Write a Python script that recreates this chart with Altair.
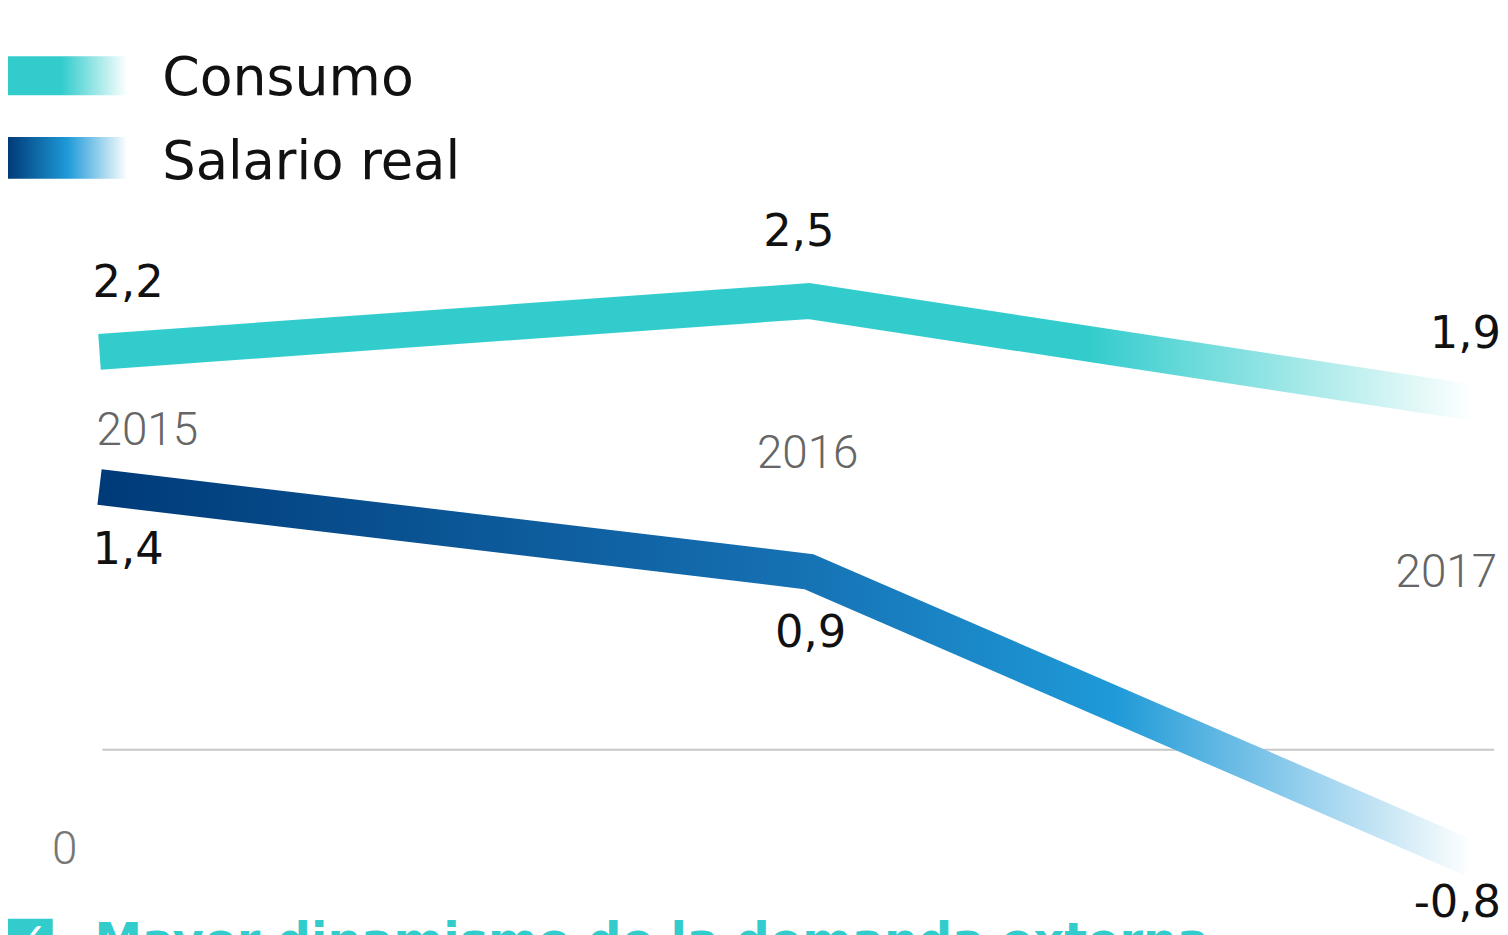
import altair as alt
import pandas as pd

# ---- data ----
years = [2015, 2016, 2017]
consumo = [2.2, 2.5, 1.9]
salario = [1.4, 0.9, -0.8]
consumo_labels = ["2,2", "2,5", "1,9"]
salario_labels = ["1,4", "0,9", "-0,8"]
year_labels = ["2015", "2016", "2017"]
year_label_level = [1.65, 1.51, 0.81]   # vertical anchor (data units) of the floating year labels
series_names = ["Consumo", "Salario real"]
footer_text = "Mayor dinamismo de la demanda externa"

TEAL = "#33cccc"
FONT = "DejaVu Sans"
LIGHT = "Roboto"

df_c = pd.DataFrame({"year": years, "value": consumo, "label": consumo_labels})
df_s = pd.DataFrame({"year": years, "value": salario, "label": salario_labels})
df_y = pd.DataFrame({"year": years, "value": year_label_level, "label": year_labels})

X = alt.X("year:Q", scale=alt.Scale(domain=[2015, 2016, 2017], range=[0, 713, 1380], nice=False, zero=False), axis=None)
Y = alt.Y("value:Q", scale=alt.Scale(domain=[-1.2, 4.0], nice=False, zero=False), axis=None)

grad_c = alt.Gradient(
    gradient="linear",
    stops=[alt.GradientStop(color=TEAL, offset=0),
           alt.GradientStop(color=TEAL, offset=0.72),
           alt.GradientStop(color="#ffffff", offset=1)],
    x1=0, x2=1, y1=0, y2=0)
grad_s = alt.Gradient(
    gradient="linear",
    stops=[alt.GradientStop(color="#003a78", offset=0),
           alt.GradientStop(color="#1570b2", offset=0.5),
           alt.GradientStop(color="#1f9ad8", offset=0.74),
           alt.GradientStop(color="#ffffff", offset=1)],
    x1=0, x2=1, y1=0, y2=0)

# zero rule
rule = alt.Chart(pd.DataFrame({"v": [0]})).mark_rule(color="#c8c8c8", strokeWidth=2).encode(
    x=alt.value(3), x2=alt.value(1402), y=alt.value(706))
zero_lbl = alt.Chart(pd.DataFrame({"t": ["0"]})).mark_text(
    font=LIGHT, fontSize=46, fontWeight=300, color="#777", align="center", baseline="alphabetic").encode(
    x=alt.value(-35), y=alt.value(821), text="t:N")

line_c = alt.Chart(df_c).mark_line(strokeWidth=36, strokeCap="butt", strokeJoin="miter",
                                   stroke=grad_c).encode(x=X, y=Y)
line_s = alt.Chart(df_s).mark_line(strokeWidth=36, strokeCap="butt", strokeJoin="miter",
                                   stroke=grad_s).encode(x=X, y=Y)


def value_labels(df, dy_list, align_list, dx_list):
    layers = []
    for yr, dy, al, dx in zip(years, dy_list, align_list, dx_list):
        layers.append(
            alt.Chart(df).transform_filter(alt.datum.year == yr).mark_text(
                font=FONT, fontSize=45, fontWeight="normal", color="#111",
                align=al, dx=dx, dy=dy, baseline="alphabetic").encode(x=X, y=Y, text="label:N"))
    return layers


lab_c = value_labels(df_c, [-55, -55, -55], ["left", "center", "right"], [-7, -10, 29])
lab_s = value_labels(df_s, [77, 76, 58], ["left", "center", "right"], [-7, 2, 29])

yr_layers = []
for yr, al, dx in zip(years, ["left", "center", "right"], [-3, -1, 25]):
    yr_layers.append(
        alt.Chart(df_y).transform_filter(alt.datum.year == yr).mark_text(
            font=LIGHT, fontSize=46, fontWeight=300, color="#666", align=al, dx=dx,
            baseline="alphabetic").encode(x=X, y=Y, text="label:N"))

# legend
leg_df = pd.DataFrame({"name": series_names})
leg_rect_c = alt.Chart(leg_df).transform_filter(alt.datum.name == series_names[0]).mark_rect(
    fill=alt.Gradient(gradient="linear",
                      stops=[alt.GradientStop(color=TEAL, offset=0),
                             alt.GradientStop(color=TEAL, offset=0.45),
                             alt.GradientStop(color="#ffffff", offset=1)],
                      x1=0, x2=1, y1=0, y2=0)).encode(
    x=alt.value(-92), x2=alt.value(28), y=alt.value(9), y2=alt.value(48))
leg_rect_s = alt.Chart(leg_df).transform_filter(alt.datum.name == series_names[1]).mark_rect(
    fill=alt.Gradient(gradient="linear",
                      stops=[alt.GradientStop(color="#003a78", offset=0),
                             alt.GradientStop(color="#1f9ad8", offset=0.5),
                             alt.GradientStop(color="#ffffff", offset=1)],
                      x1=0, x2=1, y1=0, y2=0)).encode(
    x=alt.value(-92), x2=alt.value(28), y=alt.value(90), y2=alt.value(132))
leg_txt_c = alt.Chart(leg_df).transform_filter(alt.datum.name == series_names[0]).mark_text(
    font=FONT, fontSize=54, fontWeight="normal", color="#111", align="left", baseline="alphabetic").encode(
    x=alt.value(63), y=alt.value(48), text="name:N")
leg_txt_s = alt.Chart(leg_df).transform_filter(alt.datum.name == series_names[1]).mark_text(
    font=FONT, fontSize=53, fontWeight="normal", color="#111", align="left", baseline="alphabetic").encode(
    x=alt.value(63), y=alt.value(132), text="name:N")

# footer (cut off at the bottom of the picture, as in the source)
foot_df = pd.DataFrame({"t": [footer_text]})
foot_icon = alt.Chart(foot_df).mark_rect(fill=TEAL).encode(
    x=alt.value(-92), x2=alt.value(-47), y=alt.value(876), y2=alt.value(924))
foot_check = alt.Chart(foot_df).mark_text(
    font=FONT, fontSize=40, fontWeight="bold", color="white", align="center", baseline="top").encode(
    x=alt.value(-69), y=alt.value(876), text=alt.value("✓"))
foot_txt = alt.Chart(foot_df).mark_text(
    font=FONT, fontSize=48, fontWeight="bold", color=TEAL, align="left", baseline="alphabetic").encode(
    x=alt.value(-5), y=alt.value(914), text="t:N")

chart = alt.layer(
    rule, zero_lbl, line_c, line_s, *lab_c, *lab_s, *yr_layers,
    leg_rect_c, leg_rect_s, leg_txt_c, leg_txt_s, foot_icon, foot_check, foot_txt
).properties(
    width=1380, height=884,
    autosize=alt.AutoSizeParams(type="none"),
    padding={"left": 92, "top": 37, "right": 28, "bottom": 60},
    background="white",
).configure_view(stroke=None)

chart.save("out.html", embed_options={"renderer": "svg", "actions": False})
